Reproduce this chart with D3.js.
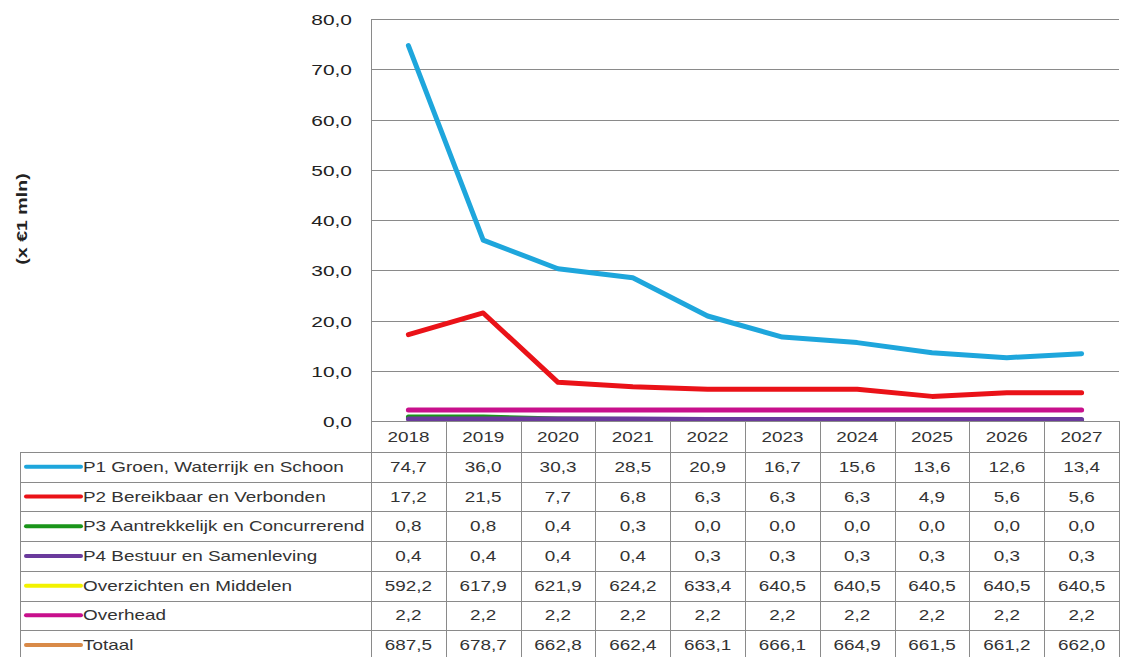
<!DOCTYPE html>
<html>
<head>
<meta charset="utf-8">
<script src="https://cdn.jsdelivr.net/npm/d3@7"></script>
<style>
  body { margin: 0; background: #fff; }
  svg { display: block; font-family: "Liberation Sans", Arial, sans-serif; }
</style>
</head>
<body>
<div id="chart"></div>
<script>
// data
const years = ['2018', '2019', '2020', '2021', '2022', '2023', '2024', '2025', '2026', '2027'];
const seriesNames = [
    'P1 Groen, Waterrijk en Schoon',
    'P2 Bereikbaar en Verbonden',
    'P3 Aantrekkelijk en Concurrerend',
    'P4 Bestuur en Samenleving',
    'Overzichten en Middelen',
    'Overhead',
    'Totaal'
];
const p1 = [74.7, 36.0, 30.3, 28.5, 20.9, 16.7, 15.6, 13.6, 12.6, 13.4];
const p2 = [17.2, 21.5, 7.7, 6.8, 6.3, 6.3, 6.3, 4.9, 5.6, 5.6];
const p3 = [0.8, 0.8, 0.4, 0.3, 0.0, 0.0, 0.0, 0.0, 0.0, 0.0];
const p4 = [0.4, 0.4, 0.4, 0.4, 0.3, 0.3, 0.3, 0.3, 0.3, 0.3];
const overzichten = [592.2, 617.9, 621.9, 624.2, 633.4, 640.5, 640.5, 640.5, 640.5, 640.5];
const overhead = [2.2, 2.2, 2.2, 2.2, 2.2, 2.2, 2.2, 2.2, 2.2, 2.2];
const totaal = [687.5, 678.7, 662.8, 662.4, 663.1, 666.1, 664.9, 661.5, 661.2, 662.0];
const yTicks = [0, 10, 20, 30, 40, 50, 60, 70, 80];
const colors = ['#1ea6dc', '#ea1218', '#1a951a', '#6a3a9c', '#f2f200', '#c8108c', '#d98a48'];

const series = [p1, p2, p3, p4, overzichten, overhead, totaal]
    .map((values, i) => ({name: seriesNames[i], values: values, color: colors[i]}));

// layout
const W = 1121, H = 657;
const plot = {l: 371, r: 1119, t: 19, b: 421};
const table = {l: 20, headTop: 421, top: 452, rowH: 29.7};
const sx = 1.35; // the source text is stretched sideways
const fmt = v => d3.format('.1f')(v).replace('.', ',');

const svg = d3.select('#chart').append('svg')
    .attr('width', W)
    .attr('height', H);

// scales
const x = d3.scaleBand()
    .domain(years)
    .range([plot.l, plot.r]);
const y = d3.scaleLinear()
    .domain([0, 80])
    .range([plot.b, plot.t]);

// gridlines
svg.append('g')
    .selectAll('line')
    .data(yTicks)
    .join('line')
    .attr('x1', plot.l)
    .attr('x2', plot.r)
    .attr('y1', d => Math.round(y(d)) + 0.5)
    .attr('y2', d => Math.round(y(d)) + 0.5)
    .attr('stroke', '#8a8a8a');

// y tick labels
svg.append('g')
    .selectAll('text')
    .data(yTicks)
    .join('text')
    .attr('transform', d => `translate(352,${y(d) + 6}) scale(${sx},1)`)
    .attr('text-anchor', 'end')
    .attr('font-size', 15.5)
    .attr('fill', '#222')
    .text(d => fmt(d));

// y axis title
svg.append('text')
    .attr('transform', `translate(27,219) rotate(-90) scale(${sx},1)`)
    .attr('text-anchor', 'middle')
    .attr('font-size', 14.5)
    .attr('font-weight', 'bold')
    .attr('fill', '#222')
    .text('(x €1 mln)');

// lines, clipped to plot
svg.append('clipPath')
    .attr('id', 'plot-clip')
    .append('rect')
    .attr('x', plot.l)
    .attr('y', plot.t)
    .attr('width', plot.r - plot.l)
    .attr('height', plot.b - plot.t);

const line = d3.line()
    .x((d, i) => x(years[i]) + x.bandwidth() / 2)
    .y(d => y(d));

svg.append('g')
    .attr('clip-path', 'url(#plot-clip)')
    .selectAll('path')
    .data(series)
    .join('path')
    .attr('d', d => line(d.values))
    .attr('fill', 'none')
    .attr('stroke', d => d.color)
    .attr('stroke-width', 5)
    .attr('stroke-linejoin', 'round')
    .attr('stroke-linecap', 'round');

// data table
const tableG = svg.append('g');
const rowY = i => table.top + i * table.rowH;
const tableBottom = rowY(series.length);
const gridColor = '#8a8a8a';

// header row: year cells
tableG.selectAll('.head-line')
    .data(years)
    .join('line')
    .attr('class', 'head-line')
    .attr('x1', d => Math.round(x(d) + x.bandwidth()) + 0.5)
    .attr('x2', d => Math.round(x(d) + x.bandwidth()) + 0.5)
    .attr('y1', table.headTop)
    .attr('y2', tableBottom)
    .attr('stroke', gridColor);

// vertical border between label column and values
tableG.append('line')
    .attr('x1', plot.l + 0.5)
    .attr('x2', plot.l + 0.5)
    .attr('y1', plot.t)
    .attr('y2', tableBottom)
    .attr('stroke', gridColor);

// left border
tableG.append('line')
    .attr('x1', table.l + 0.5)
    .attr('x2', table.l + 0.5)
    .attr('y1', table.top)
    .attr('y2', tableBottom)
    .attr('stroke', gridColor);

// horizontal row lines
tableG.selectAll('.row-line')
    .data(d3.range(series.length + 1))
    .join('line')
    .attr('class', 'row-line')
    .attr('x1', table.l)
    .attr('x2', plot.r)
    .attr('y1', i => Math.round(rowY(i)) + 0.5)
    .attr('y2', i => Math.round(rowY(i)) + 0.5)
    .attr('stroke', gridColor);

// year labels
tableG.selectAll('.year')
    .data(years)
    .join('text')
    .attr('class', 'year')
    .attr('transform', d => `translate(${x(d) + x.bandwidth() / 2},${table.headTop + 21}) scale(${sx},1)`)
    .attr('text-anchor', 'middle')
    .attr('font-size', 14)
    .attr('fill', '#333')
    .text(d => d);

// legend keys + names
const rows = tableG.selectAll('.row')
    .data(series)
    .join('g')
    .attr('class', 'row')
    .attr('transform', (d, i) => `translate(0,${rowY(i)})`);

rows.append('line')
    .attr('x1', 26)
    .attr('x2', 81)
    .attr('y1', table.rowH / 2)
    .attr('y2', table.rowH / 2)
    .attr('stroke', d => d.color)
    .attr('stroke-width', 4)
    .attr('stroke-linecap', 'round');

rows.append('text')
    .attr('transform', `translate(83,${table.rowH / 2 + 5}) scale(${sx},1)`)
    .attr('font-size', 14)
    .attr('fill', '#333')
    .text(d => d.name);

rows.selectAll('.val')
    .data(d => d.values)
    .join('text')
    .attr('class', 'val')
    .attr('transform', (v, i) => `translate(${x(years[i]) + x.bandwidth() / 2},${table.rowH / 2 + 5}) scale(${sx},1)`)
    .attr('text-anchor', 'middle')
    .attr('font-size', 14)
    .attr('fill', '#333')
    .text(v => fmt(v));
</script>
</body>
</html>
